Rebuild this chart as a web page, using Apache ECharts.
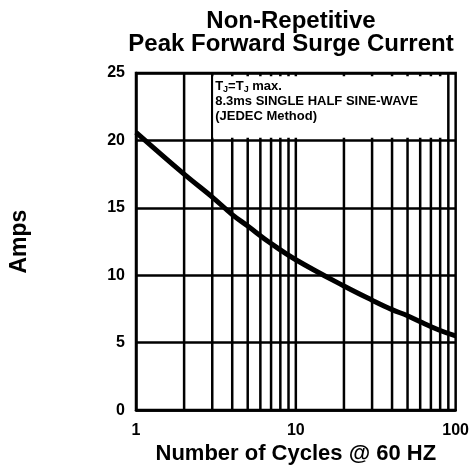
<!DOCTYPE html>
<html>
<head>
<meta charset="utf-8">
<script src="https://cdn.jsdelivr.net/npm/echarts@6/dist/echarts.min.js"></script>
<style>html,body{margin:0;padding:0;background:#fff}#c{width:472px;height:470px}</style>
</head>
<body>
<div id="c"></div>
<script>
// Data
const cycles = [1, 2, 3, 4, 5, 7, 10, 20, 30, 40, 50, 60, 80, 100];
const amps = [20.6, 17.5, 15.8, 14.5, 13.65, 12.35, 11.15, 9.2, 8.15, 7.45, 7.0, 6.55, 5.9, 5.5];
const xGridValues = [2, 3, 4, 5, 6, 7, 8, 9, 10, 20, 30, 40, 50, 60, 70, 80, 90];
const yTicks = [0, 5, 10, 15, 20, 25];
const titleLines = ['Non-Repetitive', 'Peak Forward Surge Current'];
const xName = 'Number of Cycles @ 60 HZ';
const yName = 'Amps';
const noteLines = ['{a|T}{s|J}{a|=T}{s|J}{a| max.}', '{a|8.3ms SINGLE HALF SINE-WAVE}', '{a|(JEDEC Method)}'];
const noteBox = [3.04, 24.75, 88, 20.2];

const condensed = '"Liberation Sans Narrow", "Arial Narrow", "Liberation Sans", sans-serif';
const sans = '"Liberation Sans", Arial, sans-serif';
const chart = echarts.init(document.getElementById('c'), null, { renderer: 'canvas' });
chart.setOption({
  animation: false,
  backgroundColor: '#fff',
  title: {
    text: titleLines.join('\n'),
    left: 286, top: 5, textAlign: 'center',
    textStyle: { fontFamily: condensed, fontWeight: 'bold', fontSize: 24, lineHeight: 23, color: '#000' }
  },
  grid: { left: 134, right: 16, top: 73, bottom: 58, show: true, borderColor: '#000', borderWidth: 2.5, backgroundColor: 'transparent' },
  xAxis: {
    type: 'log', logBase: 10, min: 1, max: 100,
    name: xName, nameLocation: 'middle', nameGap: 30,
    nameTextStyle: { fontFamily: condensed, fontWeight: 'bold', fontSize: 22, color: '#000' },
    axisLine: { lineStyle: { color: '#000', width: 2.5 } },
    axisTick: { show: false },
    splitLine: { show: false },
    axisLabel: { color: '#000', fontFamily: sans, fontWeight: 'bold', fontSize: 16, margin: 12 }
  },
  yAxis: {
    type: 'value', min: yTicks[0], max: yTicks[yTicks.length - 1], interval: 5,
    name: yName, nameLocation: 'middle', nameGap: 105,
    nameTextStyle: { fontFamily: condensed, fontWeight: 'bold', fontSize: 23, color: '#000' },
    axisLine: { lineStyle: { color: '#000', width: 2.5 } },
    axisTick: { show: false },
    splitLine: { show: true, lineStyle: { color: '#000', width: 2.5 } },
    axisLabel: { color: '#000', fontFamily: sans, fontWeight: 'bold', fontSize: 16, margin: 11 }
  },
  series: [
    {
      type: 'custom', z: 1, silent: true,
      data: xGridValues.map(v => [v, yTicks[0], yTicks[yTicks.length - 1]]),
      encode: { x: 0, y: [1, 2] },
      renderItem: function (params, api) {
        const a = api.coord([api.value(0), api.value(1)]);
        const b = api.coord([api.value(0), api.value(2)]);
        return { type: 'line', shape: { x1: a[0], y1: a[1], x2: b[0], y2: b[1] }, style: { stroke: '#000', lineWidth: 2.5 } };
      }
    },
    {
      type: 'custom', z: 3, silent: true,
      data: [noteBox],
      encode: { x: [0, 2], y: [1, 3] },
      renderItem: function (params, api) {
        const p0 = api.coord([api.value(0), api.value(1)]);
        const p1 = api.coord([api.value(2), api.value(3)]);
        return {
          type: 'group',
          children: [
            { type: 'rect', shape: { x: p0[0], y: p0[1], width: p1[0] - p0[0], height: p1[1] - p0[1] }, style: { fill: '#fff' } },
            {
              type: 'text', x: p0[0] + 2, y: p0[1] + 3,
              style: {
                text: noteLines.join('\n'), fill: '#000',
                rich: {
                  a: { fontFamily: sans, fontSize: 13, fontWeight: 'bold', fill: '#000', lineHeight: 15 },
                  s: { fontFamily: sans, fontSize: 9, fontWeight: 'bold', fill: '#000', verticalAlign: 'bottom', lineHeight: 15 }
                }
              }
            }
          ]
        };
      }
    },
    {
      type: 'line', z: 5,
      data: cycles.map((c, i) => [c, amps[i]]),
      smooth: 0.4, showSymbol: false, symbol: 'none',
      lineStyle: { color: '#000', width: 5 }
    }
  ]
});
</script>
</body>
</html>
